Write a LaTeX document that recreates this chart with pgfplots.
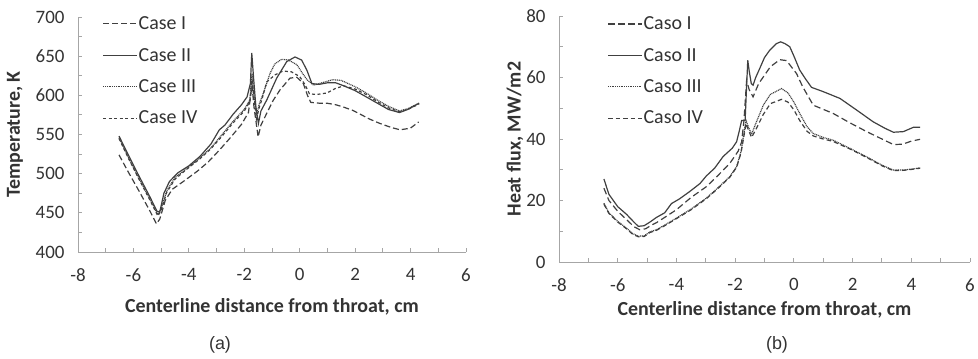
\documentclass[border=0pt]{standalone}
\usepackage{pgfplots}
\pgfplotsset{compat=1.18}
\usepackage{fontspec}
\setmainfont{Carlito}
\newfontfamily\arialf{Liberation Sans}
\definecolor{curve}{HTML}{404040}
\definecolor{axisgray}{HTML}{A6A6A6}
\definecolor{txt}{HTML}{333333}
\pgfplotsset{
  myaxis/.style={
    scale only axis,
    axis lines=left,
    axis line style={axisgray, line width=0.9bp, -},
    tick style={axisgray, line width=0.9bp},
    major tick length=4bp, minor tick length=4bp,
    tick align=inside,
    xmin=-8, xmax=6, xtick={-8,-6,...,6}, minor x tick num=1,
    font=\fontsize{19}{22}\selectfont,
    tick label style={txt, font=\fontsize{19}{22}\selectfont},
    /pgf/number format/assume math mode=true,
    xticklabel style={yshift=-13bp},
    yticklabel style={xshift=-10bp},
    xlabel={\bfseries Centerline distance from throat, cm},
    ylabel style={txt, font=\fontsize{20}{23}\selectfont},
    legend cell align=left,
    legend style={draw=none, fill=none, font=\fontsize{20}{23}\selectfont, text=txt,
      row sep=15bp, nodes={inner sep=1bp}, anchor=north west},
    legend image code/.code={\draw[#1] (0bp,0bp) -- (34bp,0bp);},
    every axis plot/.append style={curve, line width=1.2bp},
  }
}
\begin{document}
\begin{tikzpicture}
\useasboundingbox (0,0) rectangle (978bp,359bp);
\begin{axis}[myaxis, at={(78bp,107bp)}, anchor=south west,
  width=388bp, height=235bp,
  ymin=400, ymax=700, ytick={400,450,...,700}, minor y tick num=1,
  ylabel={\bfseries Temperature, K},
  ylabel style={at={([xshift=-63bp]axis description cs:0,0.5)}, anchor=center},
  xlabel style={txt, font=\fontsize{20}{23}\selectfont, at={([yshift=-55bp]axis description cs:0.5,0)}, anchor=center},
  legend style={at={(0.055,1.015)}},
]
\addplot[dash pattern=on 6bp off 3bp] table {
-6.52 524
-6.2 503
-5.8 478
-5.4 452
-5.17 436
-5.05 442
-4.85 466
-4.6 480
-4.2 490
-3.7 503
-3.3 515
-2.9 530
-2.5 546
-2.1 563
-1.85 578
-1.75 605
-1.72 612
-1.65 585
-1.5 547
-1.4 562
-1.19 577
-0.95 594
-0.71 607
-0.35 622
-0.1 623
0.13 615
0.28 600
0.4 591
0.7 590
0.98 590
1.3 588
1.58 585
1.9 581
2.18 576
2.5 570
2.9 564
3.3 559
3.62 556
3.99 558
4.29 566
};
\addlegendentry{Case I}
\addplot[solid] table {
-6.52 548
-6.2 525
-5.8 497
-5.4 470
-5.15 452
-5.05 451
-4.9 475
-4.7 490
-4.4 501
-4.0 510
-3.6 522
-3.2 538
-2.9 556
-2.7 562
-2.4 576
-2.1 588
-1.9 598
-1.78 615
-1.73 654
-1.66 620
-1.58 585
-1.49 564
-1.4 580
-1.19 594
-0.83 622
-0.47 643
-0.17 649
0.07 645
0.26 632
0.44 615
0.7 614
1.0 616
1.3 616
1.6 612
2.0 606
2.4 598
2.8 590
3.2 582
3.6 578
3.9 582
4.31 590
};
\addlegendentry{Case II}
\addplot[dash pattern=on 1bp off 0.8bp] table {
-6.52 546
-6.2 522
-5.8 494
-5.4 467
-5.12 448
-5.0 455
-4.8 478
-4.5 495
-4.1 506
-3.6 520
-3.2 533
-2.8 550
-2.4 567
-2.0 582
-1.8 594
-1.72 628
-1.65 600
-1.56 575
-1.45 590
-1.31 603
-1.07 628
-0.9 640
-0.65 646
-0.4 645
-0.1 639
0.1 628
0.26 620
0.5 613
0.8 616
1.2 620
1.5 619
2.0 611
2.4 603
2.8 594
3.2 586
3.6 580
3.9 583
4.31 590
};
\addlegendentry{Case III}
\addplot[dash pattern=on 3bp off 2.5bp] table {
-6.52 545
-6.2 521
-5.8 493
-5.4 466
-5.12 446
-5.0 453
-4.8 476
-4.5 493
-4.1 505
-3.6 519
-3.2 532
-2.8 548
-2.4 565
-2.0 580
-1.8 592
-1.72 620
-1.65 595
-1.56 570
-1.45 586
-1.37 594
-1.19 617
-0.9 626
-0.6 631
-0.3 630
0.0 624
0.2 613
0.35 602
0.6 601
0.98 603
1.3 609
1.6 612
2.0 608
2.4 601
2.8 592
3.2 584
3.6 579
3.9 582
4.31 589
};
\addlegendentry{Case IV}
\end{axis}
\begin{axis}[myaxis, at={(559bp,97bp)}, anchor=south west,
  width=411bp, height=246bp,
  ymin=0, ymax=80, ytick={0,20,...,80}, minor y tick num=1,
  ylabel={\bfseries Heat flux, MW/m2},
  ylabel style={at={([xshift=-44bp]axis description cs:0,0.5)}, anchor=center},
  xlabel style={txt, font=\fontsize{20}{23}\selectfont, at={([yshift=-48bp]axis description cs:0.5,0)}, anchor=center},
  legend style={at={(0.11,1.01)}},
]
\addplot[dash pattern=on 6.5bp off 3.5bp] table {
-6.47 24
-6.3 20
-6.0 16.5
-5.7 13.8
-5.45 11.5
-5.25 10.5
-5.05 10.8
-4.85 12
-4.68 12.8
-4.4 14.5
-4.0 17
-3.5 21
-2.98 24.5
-2.6 28
-2.18 32.1
-1.9 36
-1.78 39
-1.7 46
-1.61 59
-1.52 56
-1.39 53.7
-1.2 58
-1.04 60.2
-0.8 63.5
-0.48 65.8
-0.25 65.5
0.09 61.3
0.3 57
0.66 51
1.34 48.3
1.9 45.3
2.48 42.4
3.0 40
3.39 38.2
3.7 38.3
4.0 39.3
4.3 39.9
};
\addlegendentry{Caso I}
\addplot[solid] table {
-6.47 27
-6.3 22
-6.0 18
-5.7 15.5
-5.45 13
-5.3 11.6
-5.1 11.8
-4.9 13
-4.68 14.5
-4.4 16
-4.17 19
-3.9 20.5
-3.55 22.9
-3.2 25.5
-2.98 28
-2.7 30.5
-2.41 34.3
-2.1 37
-1.95 39.1
-1.85 43
-1.78 46
-1.66 46
-1.62 55
-1.57 65.6
-1.52 62
-1.45 58
-1.39 57.5
-1.3 60
-1.16 63
-1.0 66.5
-0.82 68.9
-0.6 71
-0.45 71.6
-0.3 71
-0.14 70
0.0 67
0.2 62.4
0.4 59.5
0.6 56.8
1.0 55.4
1.57 53.2
2.14 49.4
2.7 45.6
3.1 43.5
3.39 42.2
3.73 42.4
4.07 43.8
4.3 43.8
};
\addlegendentry{Caso II}
\addplot[dash pattern=on 1bp off 0.8bp] table {
-6.47 19.1
-6.3 16
-6.0 13.2
-5.7 11
-5.5 9.3
-5.3 8.4
-5.1 8.5
-4.9 9.8
-4.68 10.5
-4.4 12
-4.0 14.3
-3.5 17.2
-2.98 20.8
-2.6 24
-2.18 27.8
-1.95 31
-1.8 35.9
-1.7 42
-1.63 46
-1.55 44
-1.44 41.5
-1.3 45
-1.04 51
-0.8 54.5
-0.42 56.4
-0.2 55
0.0 52
0.2 48.3
0.45 44
0.66 41.8
1.0 40.5
1.34 39.6
1.9 37
2.48 34.2
3.0 31.5
3.39 29.9
3.73 29.9
4.0 30.2
4.3 30.6
};
\addlegendentry{Caso III}
\addplot[dash pattern=on 4.5bp off 3bp] table {
-6.47 18.8
-6.3 15.8
-6.0 13
-5.7 10.8
-5.5 9.1
-5.3 8.2
-5.1 8.3
-4.9 9.6
-4.68 10.3
-4.4 11.8
-4.0 14.1
-3.5 17
-2.98 20.6
-2.6 23.8
-2.18 27.6
-1.95 30.8
-1.8 35.5
-1.7 41
-1.63 45
-1.55 43
-1.44 40.5
-1.3 43
-1.04 48
-0.8 51.5
-0.42 52.9
-0.2 52
0.0 49.5
0.2 46
0.45 42.5
0.66 41
1.0 40
1.34 39.2
1.9 36.8
2.48 34
3.0 31.3
3.39 29.7
3.73 29.8
4.0 30.1
4.3 30.5
};
\addlegendentry{Caso IV}
\end{axis}
\node[txt, font=\arialf\fontsize{18}{21}\selectfont] at (220bp,14bp) {(a)};
\node[txt, font=\arialf\fontsize{18}{21}\selectfont] at (777bp,14bp) {(b)};
\end{tikzpicture}
\end{document}
